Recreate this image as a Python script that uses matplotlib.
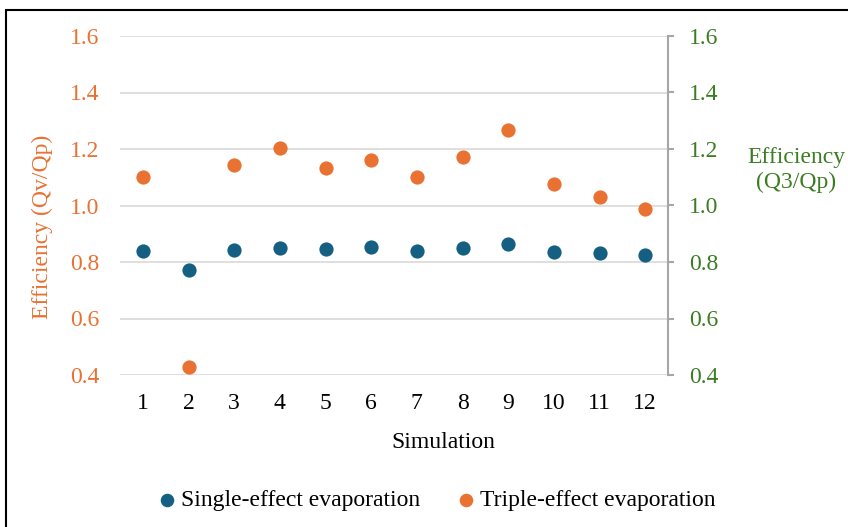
import matplotlib
matplotlib.use("Agg")
import matplotlib.pyplot as plt
from matplotlib.patches import Rectangle

simulations = list(range(1, 13))
single_effect = [0.839, 0.772, 0.842, 0.850, 0.846, 0.853, 0.839, 0.850, 0.864, 0.835, 0.832, 0.825]
triple_effect = [1.101, 0.428, 1.143, 1.204, 1.133, 1.161, 1.101, 1.172, 1.267, 1.076, 1.030, 0.988]
y_ticks = [0.4, 0.6, 0.8, 1.0, 1.2, 1.4, 1.6]

ORANGE = "#E97132"
BLUE = "#156082"
GREEN = "#3B7D23"
GRID = "#D9D9D9"
FS = 17

plt.rcParams['font.family'] = ['Liberation Serif', 'DejaVu Serif']

fig = plt.figure(figsize=(8.48, 5.27), dpi=100)
L, R, T, B = 120, 668, 36, 375
ax = fig.add_axes([L/848, 1-B/527, (R-L)/848, (B-T)/527])

ax.scatter(simulations, single_effect, s=105, color=BLUE, zorder=3, linewidths=0,
           label="Single-effect evaporation")
ax.scatter(simulations, triple_effect, s=105, color=ORANGE, zorder=3, linewidths=0,
           label="Triple-effect evaporation")

ax.set_xlim(0.5, 12.5)
ax.set_ylim(0.4, 1.6)
ax.set_yticks(y_ticks)
ax.set_yticklabels([f"{v:.1f}" for v in y_ticks])
ax.set_xticks(simulations)
ax.grid(axis='y', color=GRID, linewidth=1.2, zorder=0)
ax.set_axisbelow(True)
for s in ax.spines.values():
    s.set_visible(False)
ax.tick_params(axis='y', length=0, pad=15, labelsize=FS, labelcolor=ORANGE)
ax.tick_params(axis='x', length=0, pad=13, labelsize=FS, labelcolor='black')
ax.set_ylabel("Efficiency (Qv/Qp)", color=ORANGE, fontsize=FS)
ax.yaxis.set_label_coords((42-L)/(R-L), (B-227)/(B-T))
ax.yaxis.label.set_va('center')
ax.set_xlabel("Simulation", fontsize=FS)
ax.xaxis.set_label_coords((443-L)/(R-L), (B-442)/(B-T))
ax.xaxis.label.set_va('center')

ax2 = ax.twinx()
ax2.set_ylim(0.4, 1.6)
ax2.set_yticks(y_ticks)
ax2.set_yticklabels([f"{v:.1f}" for v in y_ticks])
for k, s in ax2.spines.items():
    s.set_visible(k == 'right')
ax2.spines['right'].set_color('#A6A6A6')
ax2.spines['right'].set_linewidth(1.5)
ax2.tick_params(axis='y', direction='out', length=4, width=1.5, color='#A6A6A6',
                pad=11, labelsize=FS, labelcolor=GREEN)
fig.text(796/848, 1-170/527, "Efficiency\n(Q3/Qp)", color=GREEN, fontsize=FS,
         ha='center', va='center', linespacing=1.25)

fig.legend(*ax.get_legend_handles_labels(), loc='center', bbox_to_anchor=(437/848, 1-500/527),
           ncol=2, frameon=False, fontsize=FS, handlelength=0.7, handletextpad=0.25,
           columnspacing=1.6, markerscale=0.95, borderaxespad=0, borderpad=0)

fig.patches.append(Rectangle((6/848, -0.1), 1.2, 1.1 - 10/527, transform=fig.transFigure,
                             fill=False, edgecolor='black', linewidth=1.5))

fig.savefig("out.png", dpi=100)
